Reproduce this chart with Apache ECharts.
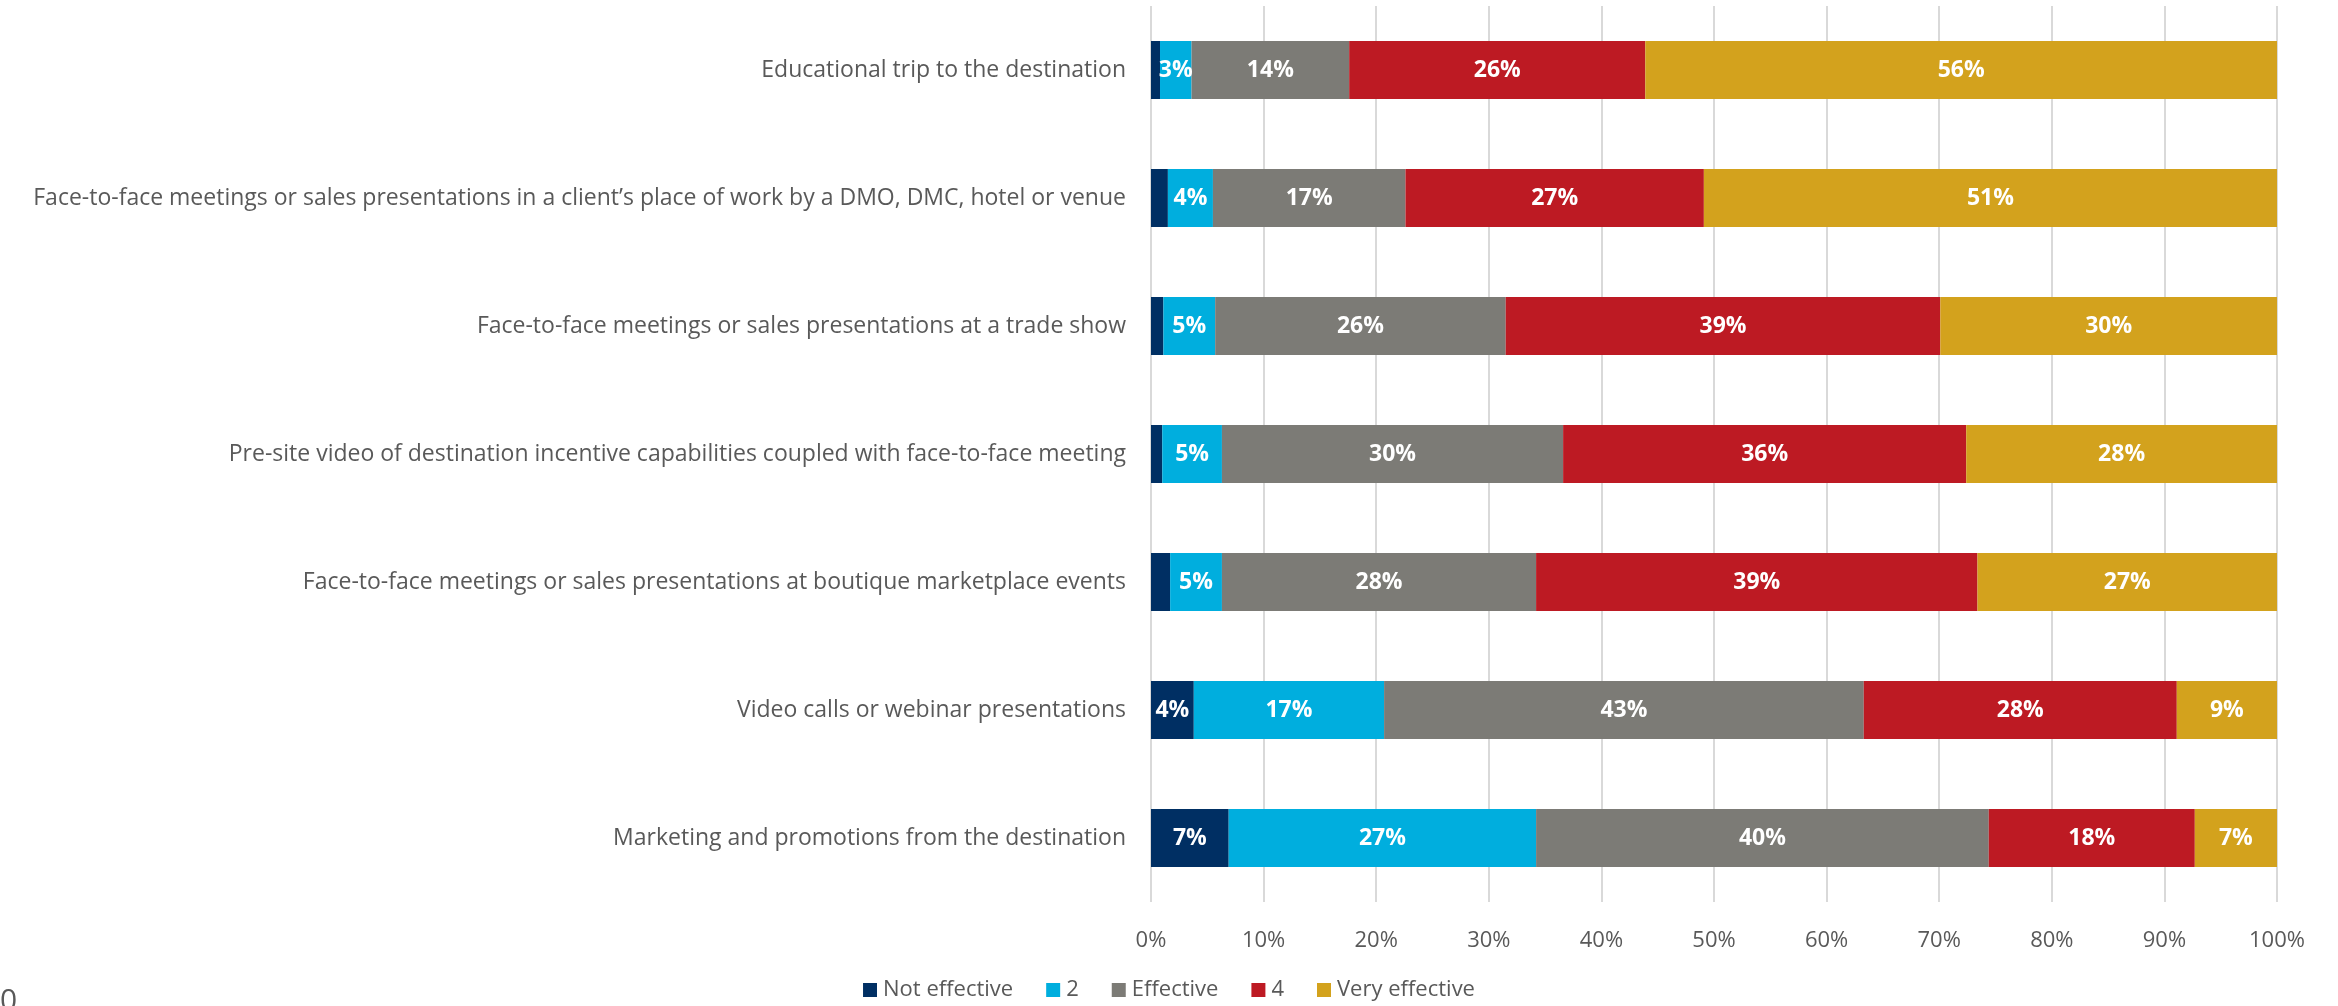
<!DOCTYPE html>
<html><head><meta charset="utf-8">
<script src="https://cdn.jsdelivr.net/npm/echarts@6/dist/echarts.min.js"></script>
<style>html,body{margin:0;padding:0;background:#fff}#c{width:2338px;height:1006px}</style>
</head><body><div id="c"></div>
<script>
const categories = [
  "Educational trip to the destination",
  "Face-to-face meetings or sales presentations in a client\u2019s place of work by a DMO, DMC, hotel or venue",
  "Face-to-face meetings or sales presentations at a trade show",
  "Pre-site video of destination incentive capabilities coupled with face-to-face meeting",
  "Face-to-face meetings or sales presentations at boutique marketplace events",
  "Video calls or webinar presentations",
  "Marketing and promotions from the destination"
];
const seriesNames = ["Not effective", "2", "Effective", "4", "Very effective"];
const notEffective = [0.8, 1.5, 1.1, 1.0, 1.7, 3.8, 6.9];
const two          = [2.8, 4.0, 4.6, 5.3, 4.6, 16.9, 27.3];
const effective    = [14.0, 17.1, 25.8, 30.3, 27.9, 42.6, 40.2];
const four         = [26.3, 26.5, 38.6, 35.8, 39.2, 27.8, 18.3];
const veryEffective= [56.1, 50.9, 29.9, 27.6, 26.6, 8.9, 7.3];
const xTicks = [0,10,20,30,40,50,60,70,80,90,100];

const colors = ["#002F63", "#00AEDE", "#7C7B76", "#BD1A23", "#D3A21D"];
const allData = [notEffective, two, effective, four, veryEffective];
const FONT = 'Open Sans';

const chart = echarts.init(document.getElementById('c'));
chart.setOption({
  animation: false,
  textStyle: {fontFamily: FONT},
  grid: {left: 1151, right: 61, top: 6, bottom: 104, containLabel: false},
  legend: {
    bottom: 0, left: 'center',
    itemWidth: 14, itemHeight: 14, itemGap: 33,
    icon: 'rect',
    textStyle: {fontFamily: FONT, fontSize: 22, color: '#595959', padding: [0,0,0,1]},
    data: seriesNames
  },
  xAxis: {
    type: 'value', min: xTicks[0], max: xTicks[xTicks.length-1], interval: 10,
    axisLine: {show: false}, axisTick: {show: false},
    splitLine: {show: true, lineStyle: {color: '#D9D9D9', width: 2}},
    axisLabel: {formatter: v => v + '%', fontFamily: FONT, fontSize: 22, color: '#595959', margin: 28}
  },
  yAxis: {
    type: 'category', inverse: true, data: categories,
    axisLine: {show: false}, axisTick: {show: false},
    axisLabel: {fontFamily: FONT, fontSize: 23, color: '#595959', margin: 25}
  },
  series: allData.map((d, i) => ({
    name: seriesNames[i], type: 'bar', stack: 'total', barWidth: 58,
    itemStyle: {color: colors[i]},
    label: {
      show: true, position: 'inside', color: '#fff',
      fontFamily: FONT, fontWeight: 'bold', fontSize: 23,
      formatter: p => p.value >= 2.5 ? Math.round(p.value) + '%' : ''
    },
    data: d
  })),
  graphic: [{type: 'text', left: 0, top: 986, style: {text: '0', fontFamily: FONT, fontSize: 30, fill: '#595959'}}]
});
</script></body></html>
